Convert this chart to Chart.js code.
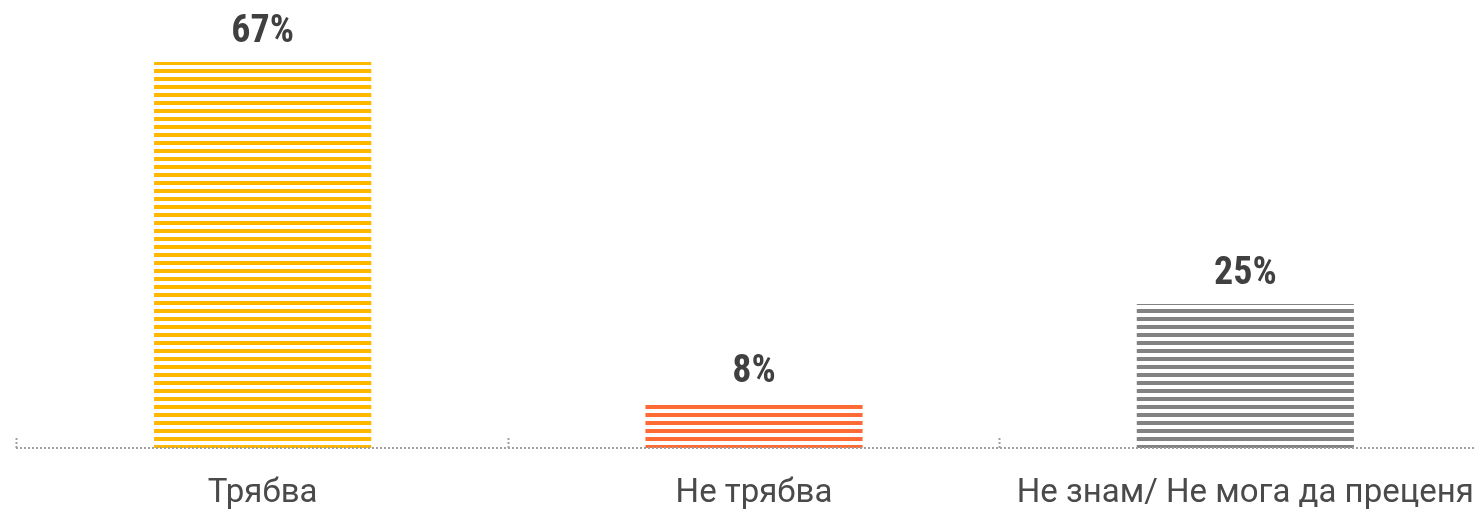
<!DOCTYPE html>
<html>
<head>
<meta charset="utf-8">
<script src="https://cdn.jsdelivr.net/npm/chart.js@4"></script>
<style>
  html, body { margin: 0; padding: 0; background: #fff; overflow: hidden; }
  #wrap { width: 1475px; height: 515px; overflow: hidden; position: relative; }
  #wrap canvas { position: absolute; left: 0; top: 0; }
</style>
</head>
<body>
<div id="wrap"><canvas id="barChart" width="1491" height="550"></canvas></div>
<script>
const labels = ["Трябва", "Не трябва", "Не знам/ Не мога да преценя"];
const values = [67, 8, 25];
const barColors = ["#FFB800", "#FF6B35", "#828282"];

// horizontal stripes, 8px period
function stripes(color) {
  const c = document.createElement("canvas");
  c.width = 8; c.height = 8;
  const g = c.getContext("2d");
  g.fillStyle = color;
  g.fillRect(0, 5, 8, 3);
  g.fillRect(0, 0, 8, 1);
  return g.createPattern(c, "repeat");
}

const valueLabels = {
  id: "valueLabels",
  afterDatasetsDraw(chart) {
    const ctx = chart.ctx;
    const meta = chart.getDatasetMeta(0);
    ctx.save();
    ctx.font = "bold 38px 'Roboto Condensed', Roboto, sans-serif";
    ctx.fillStyle = "#404040";
    ctx.textAlign = "center";
    ctx.textBaseline = "alphabetic";
    meta.data.forEach((bar, i) => {
      ctx.fillText(values[i] + "%", bar.x, bar.y - 20);
    });
    ctx.restore();
  }
};

// dotted axis line (border.dash only affects grid lines)
const dottedAxis = {
  id: "dottedAxis",
  afterDraw(chart) {
    const x = chart.scales.x;
    const ctx = chart.ctx;
    ctx.save();
    ctx.strokeStyle = "#a0a0a0";
    ctx.lineWidth = 2;
    ctx.setLineDash([2, 2]);
    ctx.beginPath();
    ctx.moveTo(x.left - 1, x.top);
    ctx.lineTo(x.right, x.top);
    ctx.stroke();
    ctx.restore();
  }
};

const barData = {
  labels: labels,
  datasets: [{
    data: values,
    backgroundColor: barColors.map(stripes),
    borderWidth: 0,
    barPercentage: 0.442,
    categoryPercentage: 1
  }]
};

const barConfig = {
  type: "bar",
  data: barData,
  options: {
    responsive: false,
    animation: false,
    layout: { padding: { left: 17, right: 0, top: 0, bottom: 0 } },
    plugins: { legend: { display: false }, tooltip: { enabled: false } },
    scales: {
      x: {
        grid: {
          drawOnChartArea: false,
          drawTicks: true,
          tickLength: -10,
          tickColor: "#a0a0a0",
          tickWidth: 2,
          tickBorderDash: [2, 2]
        },
        border: { display: false },
        ticks: {
          color: "#4a4a4a",
          padding: 3,
          font: { family: "Roboto, sans-serif", size: 33, lineHeight: "106px" }
        }
      },
      y: { display: false, min: 0, max: 77.76 }
    }
  },
  plugins: [valueLabels, dottedAxis]
};

var barChart = new Chart(document.getElementById("barChart"), barConfig);
</script>
</body>
</html>
